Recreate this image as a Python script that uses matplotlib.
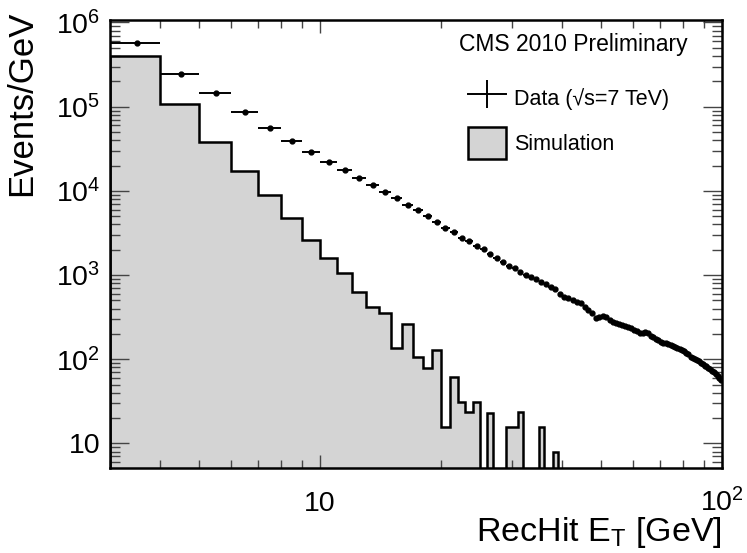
import numpy as np
import matplotlib
matplotlib.use('Agg')
import matplotlib.pyplot as plt
from matplotlib.ticker import FixedLocator, FixedFormatter, NullFormatter
from matplotlib.lines import Line2D
from matplotlib.patches import Patch

plt.rcParams['font.family'] = ['Liberation Sans', 'DejaVu Sans']
plt.rcParams['mathtext.fontset'] = 'custom'
plt.rcParams['mathtext.rm'] = 'Liberation Sans'
plt.rcParams['mathtext.it'] = 'Liberation Sans:italic'

# ---- data ----
bin_edges = np.arange(3, 101)  # 1 GeV bins from 3 to 100 GeV

data_values = [
    5.77e5, 2.45e5, 1.47e5, 8.6e4, 5.55e4, 3.92e4, 2.90e4, 2.19e4, 1.77e4, 1.42e4,
    1.16e4, 9.6e3, 8.3e3, 6.8e3, 5.9e3, 5.0e3, 4.24e3, 3.66e3, 3.27e3, 2.76e3,
    2.54e3, 2.23e3, 2.04e3, 1.77e3, 1.58e3, 1.42e3, 1.29e3, 1.20e3, 1.08e3, 1.00e3,
    950, 890, 834, 775, 730, 690, 600, 555, 535, 510,
    482, 460, 420, 384, 351, 310, 318, 322, 315, 292,
    280, 267, 262, 255, 248, 243, 232, 222, 215, 205,
    203, 210, 205, 188, 182, 175, 169, 160, 154, 156,
    153, 147, 143, 140, 136, 132, 128, 124, 119, 114,
    106, 102, 100, 98, 94, 90, 88, 84, 82, 79,
    76, 73, 70, 66, 64, 60, 56,
]

sim_values = [
    4.01e5, 1.08e5, 3.85e4, 1.72e4, 8.93e3, 4.72e3, 2.61e3, 1.58e3, 1.05e3, 634,
    414, 351, 137, 260, 107, 78, 128, 15.8, 62, 31.3,
    23.8, 30.8, 0, 23.1, 0, 0, 15.8, 15.8, 23.4, 0,
    0, 0, 15.8, 0, 0, 7.9,
] + [0] * 61

y_tick_values = [10, 1e2, 1e3, 1e4, 1e5, 1e6]
y_tick_labels = ['10', r'$\mathregular{10^{2}}$', r'$\mathregular{10^{3}}$',
                 r'$\mathregular{10^{4}}$', r'$\mathregular{10^{5}}$', r'$\mathregular{10^{6}}$']
x_tick_values = [10, 100]
x_tick_labels = ['10', r'$\mathregular{10^{2}}$']

# ---- figure ----
fig = plt.figure(figsize=(7.47, 5.53), dpi=100)
ax = fig.add_axes([0.1473, 0.1537, 0.8192, 0.8101])

edges = np.asarray(bin_edges, dtype=float)
sim = np.asarray(sim_values, dtype=float)
floor = 1e-3
sim_plot = np.where(sim > 0, sim, floor)

ax.stairs(sim_plot, edges, baseline=floor, fill=True, color='#d4d4d4', lw=0, zorder=1)
ax.stairs(sim_plot, edges, baseline=floor, fill=False, color='black', lw=1.8, zorder=2)

centers = 0.5 * (edges[:-1] + edges[1:])
half_w = 0.5 * np.diff(edges)
ax.errorbar(centers, data_values, xerr=half_w, fmt='o', color='black', ms=3.5,
            elinewidth=1.4, capsize=0, zorder=3)

ax.set_xscale('log')
ax.set_yscale('log')
ax.set_xlim(3, 100)
ax.set_ylim(5.1, 1.07e6)

ax.yaxis.set_major_locator(FixedLocator(y_tick_values))
ax.yaxis.set_major_formatter(FixedFormatter(y_tick_labels))
ax.xaxis.set_major_locator(FixedLocator(x_tick_values))
ax.xaxis.set_major_formatter(FixedFormatter(x_tick_labels))
ax.xaxis.set_minor_formatter(NullFormatter())
ax.yaxis.set_minor_formatter(NullFormatter())

ax.tick_params(axis='both', which='both', direction='in', top=True, right=True,
               color='#444444', width=1.0)
ax.tick_params(axis='y', which='major', length=14, labelsize=20.5, pad=7)
ax.tick_params(axis='y', which='minor', length=7)
ax.tick_params(axis='x', which='major', length=9.5, labelsize=20.5, pad=31)
ax.tick_params(axis='x', which='minor', length=5.5)
for lab in ax.get_xticklabels():
    lab.set_va('baseline')

for sp in ax.spines.values():
    sp.set_linewidth(1.8)
    sp.set_zorder(5)

ax.set_ylabel('Events/GeV', fontsize=25, loc='top')
ax.yaxis.set_label_coords(-0.118, 1.022)
ax.set_xlabel(r'RecHit $\mathregular{E_{T}}$ [GeV]', fontsize=24.5, loc='right')
ax.xaxis.set_label_coords(1.0, -0.105)

ax.text(0.9444, 0.9464, 'CMS 2010 Preliminary', transform=ax.transAxes,
        ha='right', va='center', fontsize=16.5)

handles = [
    Line2D([], [], color='black', lw=1.4, marker='|', markersize=20, markeredgewidth=1.4),
    Patch(facecolor='#d4d4d4', edgecolor='black', lw=1.8),
]
ax.legend(handles, ['Data (√s=7 TeV)', 'Simulation'], loc='upper left',
          bbox_to_anchor=(0.5845, 0.8605), borderaxespad=0, borderpad=0,
          frameon=False, fontsize=15.5, handlelength=1.8, handleheight=1.9,
          handletextpad=0.34, labelspacing=0.6)

fig.savefig('out.png', dpi=100)
